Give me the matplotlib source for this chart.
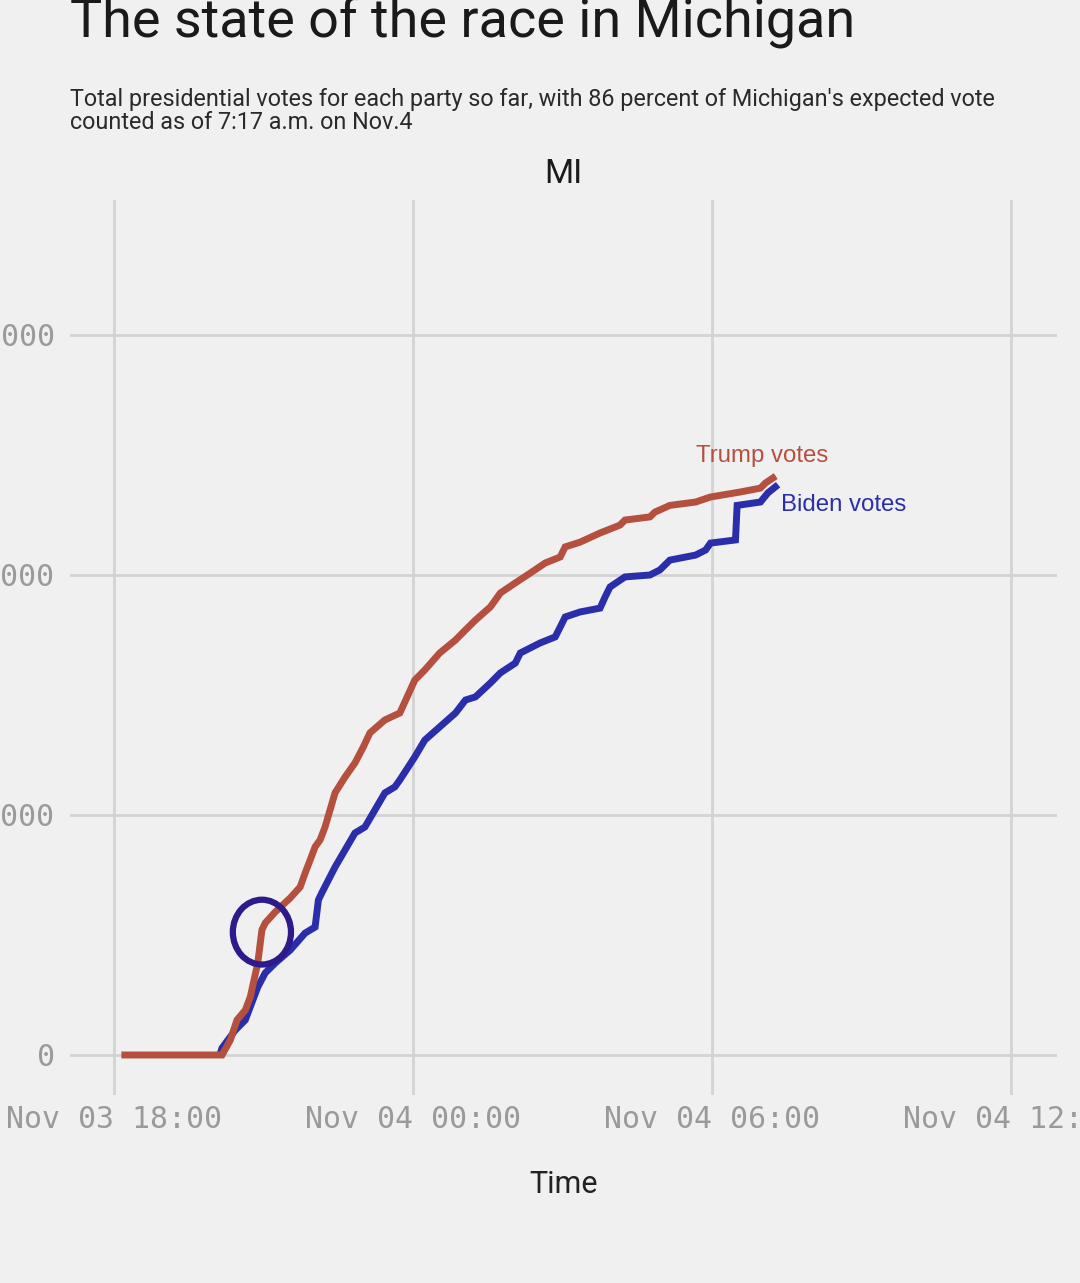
import matplotlib
matplotlib.use("Agg")
import matplotlib.pyplot as plt
import matplotlib.dates as mdates
from matplotlib.patches import Ellipse
from matplotlib.ticker import FuncFormatter
import pandas as pd

# vote counts (times are local, Nov 3-4 2020)
trump_times = ["11-03 18:13", "11-03 20:10", "11-03 20:20", "11-03 20:28", "11-03 20:38",
               "11-03 20:44", "11-03 20:53", "11-03 20:58", "11-03 21:02", "11-03 21:14",
               "11-03 21:32", "11-03 21:44", "11-03 21:50", "11-03 21:56", "11-03 22:02",
               "11-03 22:08", "11-03 22:14", "11-03 22:20", "11-03 22:26", "11-03 22:38",
               "11-03 22:50", "11-03 23:00", "11-03 23:08", "11-03 23:26", "11-03 23:44",
               "11-04 00:02", "11-04 00:14", "11-04 00:32", "11-04 00:51", "11-04 01:03",
               "11-04 01:15", "11-04 01:33", "11-04 01:45", "11-04 02:03", "11-04 02:21",
               "11-04 02:39", "11-04 02:57", "11-04 03:03", "11-04 03:21", "11-04 03:45",
               "11-04 04:09", "11-04 04:15", "11-04 04:45", "11-04 04:51", "11-04 05:09",
               "11-04 05:40", "11-04 05:58", "11-04 06:34", "11-04 06:58", "11-04 07:04",
               "11-04 07:13"]
trump_votes = [0, 0, 62500, 146000, 187000,
               242000, 383000, 521000, 550000, 596000,
               654000, 700000, 758000, 812000, 867000,
               896000, 950000, 1021000, 1092000, 1158000,
               1217000, 1283000, 1342000, 1396000, 1425000,
               1562000, 1604000, 1675000, 1729000, 1771000,
               1812000, 1867000, 1925000, 1967000, 2008000,
               2050000, 2075000, 2117000, 2137000, 2175000,
               2208000, 2229000, 2242000, 2262000, 2290000,
               2304000, 2325000, 2346000, 2362000, 2383000,
               2404000]

biden_times = ["11-03 20:08", "11-03 20:10", "11-03 20:26", "11-03 20:38", "11-03 20:53",
               "11-03 21:02", "11-03 21:14", "11-03 21:32", "11-03 21:50", "11-03 22:02",
               "11-03 22:06", "11-03 22:10", "11-03 22:18", "11-03 22:26", "11-03 22:38",
               "11-03 22:50", "11-03 23:02", "11-03 23:14", "11-03 23:26", "11-03 23:38",
               "11-03 23:44", "11-04 00:02", "11-04 00:14", "11-04 00:32", "11-04 00:51",
               "11-04 01:03", "11-04 01:15", "11-04 01:33", "11-04 01:45", "11-04 02:03",
               "11-04 02:09", "11-04 02:33", "11-04 02:51", "11-04 02:57", "11-04 03:03",
               "11-04 03:21", "11-04 03:45", "11-04 03:51", "11-04 03:57", "11-04 04:15",
               "11-04 04:45", "11-04 04:57", "11-04 05:09", "11-04 05:40", "11-04 05:52",
               "11-04 05:58", "11-04 06:28", "11-04 06:30", "11-04 06:58", "11-04 07:07",
               "11-04 07:16"]
biden_votes = [8000, 29000, 104000, 146000, 283000,
               342000, 383000, 437000, 508000, 533000,
               646000, 675000, 729000, 783000, 854000,
               925000, 950000, 1021000, 1092000, 1117000,
               1146000, 1242000, 1312000, 1367000, 1425000,
               1479000, 1492000, 1550000, 1592000, 1633000,
               1675000, 1717000, 1742000, 1783000, 1825000,
               1846000, 1862000, 1908000, 1950000, 1992000,
               2000000, 2021000, 2062000, 2083000, 2104000,
               2133000, 2146000, 2290000, 2304000, 2342000,
               2367000]

y_ticks = [0, 1000000, 2000000, 3000000]

# hand-drawn circle someone added on top of the screenshot
circle_time = "11-03 20:58"
circle_votes = 512000

trump_t = pd.to_datetime(["2020-" + s for s in trump_times])
biden_t = pd.to_datetime(["2020-" + s for s in biden_times])

BG = "#f0f0f0"
GRID = "#d3d3d3"
RED = "#b5503f"
BLUE = "#2a2eaa"

W, H = 1080, 1283
fig = plt.figure(figsize=(W / 100, H / 100), dpi=100, facecolor=BG)
ax = fig.add_axes([70 / W, 1 - 1095 / H, 987 / W, 895 / H], facecolor=BG)

ax.plot(trump_t, trump_votes, color=RED, lw=5, solid_joinstyle="miter", zorder=3)
ax.plot(biden_t, biden_votes, color=BLUE, lw=5, solid_joinstyle="miter", zorder=2)

ax.set_xlim(pd.Timestamp("2020-11-03 17:07"), pd.Timestamp("2020-11-04 12:55"))
ax.set_ylim(-166700, 3562500)

ax.xaxis.set_major_locator(mdates.HourLocator(byhour=[0, 6, 12, 18]))
ax.xaxis.set_major_formatter(mdates.DateFormatter("%b %d %H:%M"))
ax.set_yticks(y_ticks)
ax.yaxis.set_major_formatter(FuncFormatter(lambda v, p: f"{int(v):,}"))

ax.grid(True, color=GRID, lw=2)
ax.set_axisbelow(True)
for s in ax.spines.values():
    s.set_visible(False)
ax.tick_params(length=0, labelcolor="#9a9a9a", labelsize=21.5)
for lab in ax.get_xticklabels() + ax.get_yticklabels():
    lab.set_family("DejaVu Sans Mono")
ax.tick_params(axis="x", pad=7)
ax.tick_params(axis="y", pad=11)

ax.set_xlabel("Time", fontsize=22, color="#222222", family="Roboto", labelpad=26)

ax.annotate("Trump votes", (trump_t[-1], trump_votes[-1]), xytext=(-11, 22),
            textcoords="offset pixels", ha="center", va="center",
            color=RED, fontsize=17.3, family="Liberation Sans")
ax.annotate("Biden votes", (biden_t[-1], biden_votes[-1]), xytext=(6, -18),
            textcoords="offset pixels", ha="left", va="center",
            color=BLUE, fontsize=17.3, family="Liberation Sans")

ax.add_patch(Ellipse((mdates.date2num(pd.Timestamp("2020-" + circle_time)), circle_votes),
                     width=70 / 1440, height=270000, fill=False,
                     ec="#2d1b8c", lw=4.5, zorder=5))

fig.text(70 / W, 1 - 36 / H, "The state of the race in Michigan", fontsize=38.8,
         family="Roboto", color="#1a1a1a", va="baseline")
fig.text(70 / W, 1 - 106 / H,
         "Total presidential votes for each party so far, with 86 percent of Michigan's expected vote",
         fontsize=16.8, family="Roboto", color="#2a2a2a", va="baseline")
fig.text(70 / W, 1 - 129 / H, "counted as of 7:17 a.m. on Nov.4",
         fontsize=16.8, family="Roboto", color="#2a2a2a", va="baseline")
fig.text(563 / W, 1 - 174 / H, "MI", fontsize=24, family="Roboto", color="#1a1a1a",
         ha="center", va="center")

fig.savefig("out.png", dpi=100, facecolor=BG)
